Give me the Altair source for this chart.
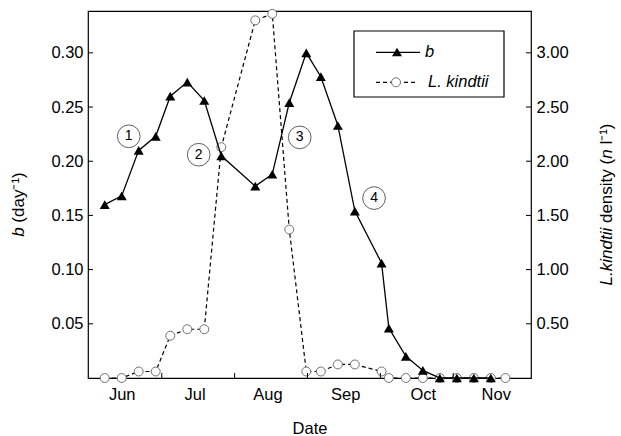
import json
import altair as alt
import pandas as pd

# Weekly samples, as day of year
sample_day = [145, 152, 159, 166, 172, 179, 186, 193, 207, 214, 221, 228,
              234, 241, 248, 259, 262, 269, 276, 283, 290, 297, 304, 310]
# Rate b (day^-1); no value on the last date
b_rate = [0.160, 0.168, 0.210, 0.223, 0.260, 0.273, 0.256, 0.205, 0.177, 0.188,
          0.254, 0.300, 0.278, 0.233, 0.154, 0.106, 0.046, 0.020, 0.007, 0.0,
          0.0, 0.0, 0.0, None]
# L. kindtii density (n l^-1)
kindtii_density = [0.0, 0.0, 0.06, 0.06, 0.39, 0.45, 0.45, 2.13, 3.30, 3.36,
                   1.37, 0.06, 0.06, 0.125, 0.125, 0.06, 0.0, 0.0, 0.0, 0.0,
                   0.0, 0.0, 0.0, 0.0]

month_names = ["Jun", "Jul", "Aug", "Sep", "Oct", "Nov"]
month_days = [152, 182, 212, 244, 276, 306]
x_tick_days = [168.5, 198.5, 228.5, 258.5, 288.5]
b_ticks = [0.05, 0.10, 0.15, 0.20, 0.25, 0.30]
density_ticks = [0.5, 1.0, 1.5, 2.0, 2.5, 3.0]

# Numbered phases marked on the plot
phase_labels = ["1", "2", "3", "4"]
phase_days = [154.9, 183.7, 225.3, 255.9]
phase_b = [0.223, 0.206, 0.222, 0.166]

# ---- layout and style ----
W, H = 443, 367
FONT = "Liberation Sans"
FS = 16.5      # tick labels, legend, x title
FT = 17        # rotated axis titles
TICK = 5

df = pd.DataFrame({"day": sample_day, "b": b_rate, "density": kindtii_density})
phases = pd.DataFrame({"day": phase_days, "b": phase_b, "label": phase_labels})
one = pd.DataFrame({"k": [0]})

x_scale = alt.Scale(domain=[138.12, 320.53], nice=False, zero=False)
b_scale = alt.Scale(domain=[0, 0.3386], nice=False)
d_scale = alt.Scale(domain=[0, 3.386], nice=False)

label_expr = "{}[indexof({}, datum.value)]".format(json.dumps(month_names), json.dumps(month_days))
x_axis = alt.Axis(values=month_days, labelExpr=label_expr, ticks=False,
                  domain=False, grid=False, labelPadding=8, labelFontSize=FS,
                  labelFont=FONT, labelColor="black", title="Date",
                  titleFontSize=FS, titleFont=FONT, titleFontWeight="normal",
                  titleColor="black", titlePadding=18)
X = alt.X("day:Q", scale=x_scale, axis=x_axis)


def y_axis(orient, values):
    return alt.Axis(orient=orient, values=values, format=".2f", ticks=False,
                    domain=False, grid=False, labelPadding=5, labelFontSize=FS,
                    labelFont=FONT, labelColor="black", title="")


base = alt.Chart(df)

# density series: dashed line with open circles (right axis)
dens_line = base.mark_line(color="black", strokeWidth=1.2, strokeDash=[4, 3]).encode(
    x=X, y=alt.Y("density:Q", scale=d_scale, axis=y_axis("right", density_ticks)))
dens_pts = base.mark_point(shape="circle", size=80, filled=True, fill="white",
                           stroke="#707070", strokeWidth=1, opacity=1).encode(
    x=X, y=alt.Y("density:Q", scale=d_scale, axis=None))
dens_tk = alt.Chart(pd.DataFrame({"density": density_ticks})).mark_rule(
    color="black", strokeWidth=1).encode(
    y=alt.Y("density:Q", scale=d_scale, axis=None), x=alt.value(W - TICK), x2=alt.value(W))

# rate b: solid line with filled triangles (left axis)
b_line = base.mark_line(color="black", strokeWidth=1.3).encode(
    x=X, y=alt.Y("b:Q", scale=b_scale, axis=y_axis("left", b_ticks)))
b_pts = base.mark_point(shape="triangle-up", size=100, filled=True, color="black",
                        opacity=1).encode(x=X, y=alt.Y("b:Q", scale=b_scale, axis=None))
b_tk = alt.Chart(pd.DataFrame({"b": b_ticks})).mark_rule(color="black", strokeWidth=1).encode(
    y=alt.Y("b:Q", scale=b_scale, axis=None), x=alt.value(0), x2=alt.value(TICK))
x_tk = alt.Chart(pd.DataFrame({"day": x_tick_days})).mark_rule(color="black", strokeWidth=1).encode(
    x=X, y=alt.value(H - TICK), y2=alt.value(H))
ph_circ = alt.Chart(phases).mark_point(shape="circle", size=515, filled=False,
                                       stroke="#606060", strokeWidth=1, opacity=1).encode(
    x=X, y=alt.Y("b:Q", scale=b_scale, axis=None))
ph_text = alt.Chart(phases).mark_text(font=FONT, fontSize=14, color="black",
                                      align="center", baseline="middle").encode(
    x=X, y=alt.Y("b:Q", scale=b_scale, axis=None), text="label:N")


def txt(s, x, y, size=FS, **kw):
    return alt.Chart(one).mark_text(text=s, font=FONT, fontSize=size, color="black", **kw).encode(
        x=alt.value(x), y=alt.value(y))


# legend box
legend = [
    alt.Chart(one).mark_rect(fill="white", stroke="black", strokeWidth=1.2).encode(
        x=alt.value(266), x2=alt.value(416), y=alt.value(20), y2=alt.value(86)),
    alt.Chart(one).mark_rule(color="black", strokeWidth=1.3).encode(
        x=alt.value(288), x2=alt.value(332), y=alt.value(41.3)),
    alt.Chart(one).mark_point(shape="triangle-up", size=100, filled=True, color="black",
                              opacity=1).encode(x=alt.value(309), y=alt.value(41)),
    txt("b", 337, 41.3, align="left", baseline="middle", fontStyle="italic"),
    alt.Chart(one).mark_rule(color="black", strokeWidth=1.2, strokeDash=[4, 3]).encode(
        x=alt.value(288), x2=alt.value(329), y=alt.value(71.3)),
    alt.Chart(one).mark_point(shape="circle", size=80, filled=True, fill="white",
                              stroke="#707070", strokeWidth=1, opacity=1).encode(
        x=alt.value(308), y=alt.value(71.3)),
    txt("L. kindtii", 340, 71.3, align="left", baseline="middle", fontStyle="italic"),
]

# rotated axis titles built from italic and upright pieces (read bottom to top)
SP = 0.278 * FT                       # width of a space
LX, LY = -69, 216.4
RX, RP = 519, 216.8
r_density = RP - SP                   # start of "density ("
r_n = r_density - 64.3                # start of italic "n"
r_unit = r_n - 0.556 * FT - SP        # start of "l^-1)"
rot = dict(size=FT, angle=270, baseline="middle")
titles = [
    txt("b", LX, LY, align="right", fontStyle="italic", **rot),
    txt("(day\u207b\u00b9)", LX, LY - SP, align="left", **rot),
    txt("L.kindtii", RX, RP, align="right", fontStyle="italic", **rot),
    txt("density (", RX, r_density, align="left", **rot),
    txt("n", RX, r_n, align="left", fontStyle="italic", **rot),
    txt("l\u207b\u00b9)", RX, r_unit, align="left", **rot),
]

chart = alt.layer(
    dens_line, dens_pts, dens_tk, b_tk, x_tk, ph_circ, ph_text, b_line, b_pts,
    *legend, *titles
).resolve_scale(
    y="independent"
).properties(
    width=W, height=H, autosize="none",
    padding={"left": 88, "top": 11, "right": 90, "bottom": 58},
).configure(
    font=FONT, view=alt.ViewConfig(stroke="black", strokeWidth=1.2)
)

chart.save("out.html", embed_options={"renderer": "svg", "actions": False})
